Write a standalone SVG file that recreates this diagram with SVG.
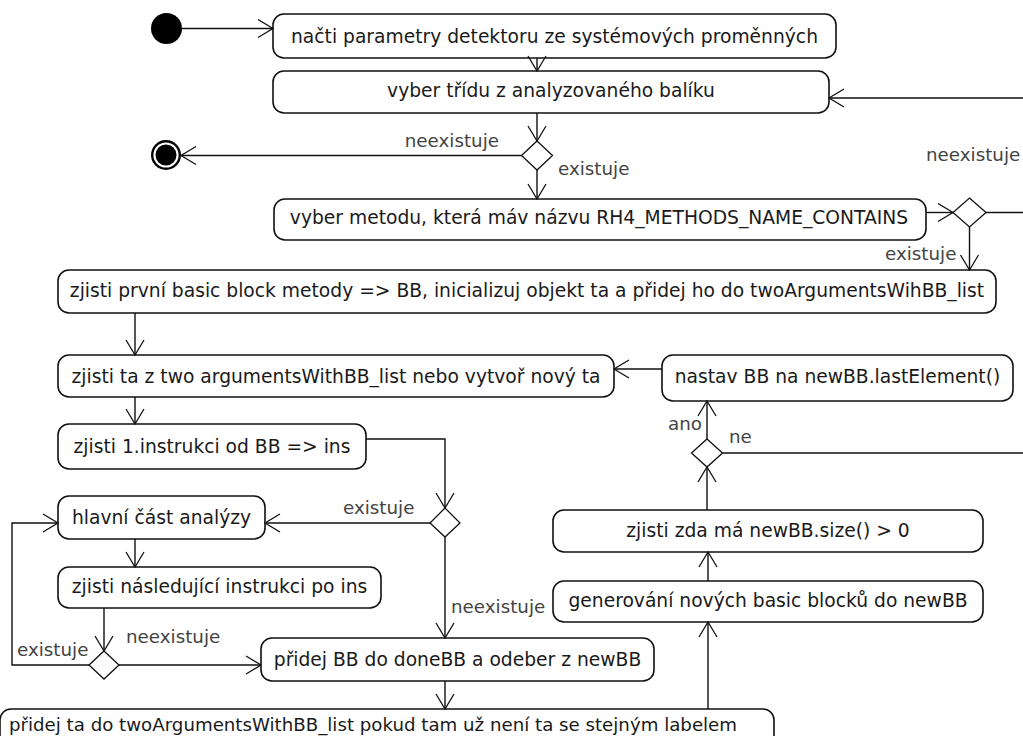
<svg xmlns="http://www.w3.org/2000/svg" width="1023" height="736" viewBox="0 0 1023 736">
<style>
.n rect{fill:#fff;stroke:#111;stroke-width:1.6}
.n text{font-family:"DejaVu Sans",Verdana,sans-serif;font-size:18.7px;fill:#1a1a1a;text-anchor:middle}
.d{fill:#fff;stroke:#111;stroke-width:1.3}
.e path{fill:none;stroke:#111;stroke-width:1.4}
.e .a{marker-end:url(#arr)}
.l{font-family:"DejaVu Sans",Verdana,sans-serif;font-size:18.3px;fill:#444}
</style>
<defs>
<marker id="arr" markerUnits="userSpaceOnUse" viewBox="-17 -11 19 22" refX="0" refY="0" markerWidth="19" markerHeight="22" orient="auto" overflow="visible">
<path d="M-15,-9 L0,0 L-15,9" fill="none" stroke="#111" stroke-width="1.3"/>
</marker>
</defs>
<rect width="1023" height="736" fill="#fff"/>
<g id="start"><circle cx="166.5" cy="28.5" r="15.5" fill="#000"/></g>
<g id="end"><circle cx="166" cy="155" r="15" fill="#000"/><circle cx="166" cy="155" r="12.6" fill="#fff"/><circle cx="166" cy="155" r="10.5" fill="#000"/></g>
<g id="n1" class="n"><rect x="273" y="14" width="563" height="44" rx="11"/><text x="554.5" y="43">načti parametry detektoru ze systémových proměnných</text></g>
<g id="n2" class="n"><rect x="273" y="71" width="556" height="42" rx="11"/><text x="551" y="97">vyber třídu z analyzovaného balíku</text></g>
<g id="n3" class="n"><rect x="274" y="199" width="652" height="41" rx="11"/><text x="599" y="224">vyber metodu, která máv názvu RH4_METHODS_NAME_CONTAINS</text></g>
<g id="n4" class="n"><rect x="58" y="270" width="938" height="43" rx="11"/><text x="527" y="297">zjisti první basic block metody =&gt; BB, inicializuj objekt ta a přidej ho do twoArgumentsWihBB_list</text></g>
<g id="n5" class="n"><rect x="58" y="355" width="556" height="42" rx="11"/><text x="336" y="383">zjisti ta z two argumentsWithBB_list nebo vytvoř nový ta</text></g>
<g id="n6" class="n"><rect x="58" y="424" width="308" height="45" rx="11"/><text x="212" y="453">zjisti 1.instrukci od BB =&gt; ins</text></g>
<g id="n7" class="n"><rect x="58" y="496" width="207" height="43" rx="11"/><text x="161.5" y="524">hlavní část analýzy</text></g>
<g id="n8" class="n"><rect x="58" y="567" width="323" height="41" rx="11"/><text x="219.5" y="593">zjisti následující instrukci po ins</text></g>
<g id="n9" class="n"><rect x="261" y="638" width="393" height="43" rx="11"/><text x="457.5" y="666">přidej BB do doneBB a odeber z newBB</text></g>
<g id="n10" class="n"><rect x="0" y="709" width="774" height="50" rx="11"/><text x="373" y="731" style="font-size:18.2px">přidej ta do twoArgumentsWithBB_list pokud tam už není ta se stejným labelem</text></g>
<g id="n11" class="n"><rect x="553" y="510" width="430" height="42" rx="11"/><text x="768" y="537">zjisti zda má newBB.size() &gt; 0</text></g>
<g id="n12" class="n"><rect x="553" y="581" width="430" height="41" rx="11"/><text x="768" y="607">generování nových basic blocků do newBB</text></g>
<g id="n13" class="n"><rect x="662" y="355" width="351" height="46" rx="11"/><text x="837.5" y="383">nastav BB na newBB.lastElement()</text></g>
<g id="d1"><polygon class="d" points="537,141 552.5,155.5 537,170 521.5,155.5"/></g>
<g id="d2"><polygon class="d" points="969.5,198 986,212.5 969.5,227 953,212.5"/></g>
<g id="d3"><polygon class="d" points="445,508 460,523 445,537 430,523"/></g>
<g id="d4"><polygon class="d" points="104,651 119,665 104,679 89,665"/></g>
<g id="d5"><polygon class="d" points="707,439 722.5,453 707,467 691.5,453"/></g>
<g id="edges" class="e">
<path class="a" d="M182,28.5 H273"/>
<path class="a" d="M537,58 V71"/>
<path class="a" d="M1023,98 H829"/>
<path class="a" d="M537,113 V141"/>
<path class="a" d="M521.5,155.5 H181"/>
<path class="a" d="M537,170 V199"/>
<path class="a" d="M926,212.5 H953"/>
<path d="M986,212.5 H1023"/>
<path class="a" d="M969.5,227 V270"/>
<path class="a" d="M135,313 V355"/>
<path class="a" d="M135,397 V424"/>
<path class="a" d="M366,439 H445 V508"/>
<path class="a" d="M430,523 H265"/>
<path class="a" d="M135,539 V567"/>
<path class="a" d="M104,608 V651"/>
<path class="a" d="M89,665 H12 V523 H58"/>
<path class="a" d="M119,665 H261"/>
<path class="a" d="M445,537 V638"/>
<path class="a" d="M445,681 V709"/>
<path class="a" d="M708,709 V622"/>
<path class="a" d="M708,581 V552"/>
<path class="a" d="M707,510 V467"/>
<path class="a" d="M707,439 V401"/>
<path d="M722.5,453 H1023"/>
<path class="a" d="M662,369 H614"/>
</g>
<g id="labels">
<text class="l" x="499" y="147" text-anchor="end">neexistuje</text>
<text class="l" x="558" y="175">existuje</text>
<text class="l" x="926" y="161">neexistuje</text>
<text class="l" x="885" y="260">existuje</text>
<text class="l" x="343" y="514">existuje</text>
<text class="l" x="17" y="656">existuje</text>
<text class="l" x="126" y="643">neexistuje</text>
<text class="l" x="451" y="613">neexistuje</text>
<text class="l" x="668" y="430">ano</text>
<text class="l" x="729" y="443">ne</text>
</g>
</svg>
